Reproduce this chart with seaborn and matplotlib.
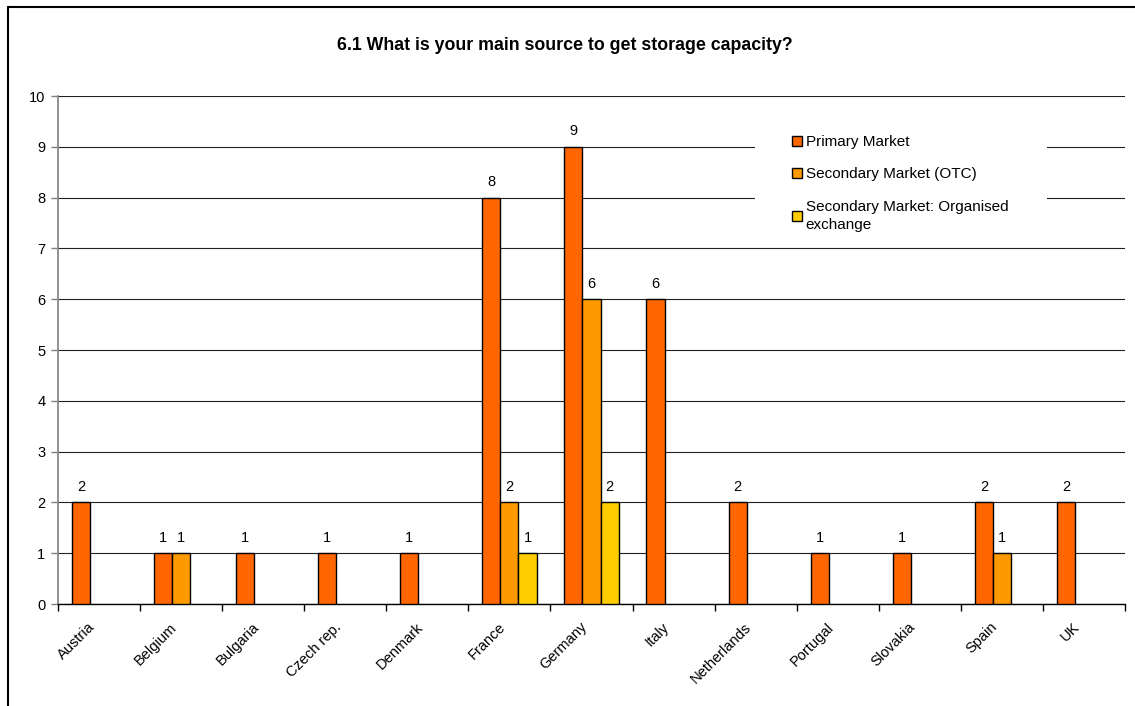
import numpy as np
import pandas as pd
import matplotlib
matplotlib.use("Agg")
import matplotlib.pyplot as plt
from matplotlib.lines import Line2D
from matplotlib.patches import Rectangle
import seaborn as sns

countries = ["Austria", "Belgium", "Bulgaria", "Czech rep.", "Denmark", "France",
             "Germany", "Italy", "Netherlands", "Portugal", "Slovakia", "Spain", "UK"]
sources = ["Primary Market", "Secondary Market (OTC)",
           "Secondary Market: Organised exchange"]
primary = [2, 1, 1, 1, 1, 8, 9, 6, 2, 1, 1, 2, 2]
secondary_otc = [0, 1, 0, 0, 0, 2, 6, 0, 0, 0, 0, 1, 0]
organised = [0, 0, 0, 0, 0, 1, 2, 0, 0, 0, 0, 0, 0]
colors = ["#FF6600", "#FF9900", "#FFCC00"]
title = "6.1 What is your main source to get storage capacity?"

rows = []
for src, vals in zip(sources, [primary, secondary_otc, organised]):
    for c, v in zip(countries, vals):
        if v > 0:
            rows.append({"country": c, "source": src, "count": v})
df = pd.DataFrame(rows)

sns.set_theme(style="white")
plt.rcParams["font.family"] = ["Liberation Sans", "DejaVu Sans"]
plt.rcParams["text.color"] = "black"

W, H = 1135, 706
fig = plt.figure(figsize=(W / 100, H / 100), dpi=100)
ax = fig.add_axes([58 / W, 1 - 604 / H, (1125 - 58) / W, (604 - 96) / H])

sns.barplot(data=df, x="country", y="count", hue="source", order=countries,
            hue_order=sources, palette=colors, width=0.66, edgecolor="black",
            linewidth=1, saturation=1, ax=ax, zorder=3)

for cont in ax.containers:
    ax.bar_label(cont, padding=6, fontsize=10.5, color="black")

ax.set_ylim(0, 10)
ax.set_xlim(-0.5, len(countries) - 0.5)
ax.set_yticks(range(0, 11))
ax.yaxis.grid(True, color="#222222", linewidth=0.8, zorder=0)
ax.set_axisbelow(True)
ax.set_xlabel("")
ax.set_ylabel("")

# tick marks between groups; rotated labels end just left of each group centre
ax.set_xticks(np.arange(-0.5, len(countries), 1))
ax.set_xticklabels([])
ax.set_xticks(np.arange(len(countries)) - 0.08, minor=True)
ax.set_xticklabels(countries, minor=True, rotation=45, ha="right", va="center",
                   rotation_mode="anchor", fontsize=10.5)
ax.tick_params(axis="x", which="major", length=5, width=1, color="black",
               direction="out", bottom=True)
ax.tick_params(axis="x", which="minor", length=0, pad=15, labelcolor="black")
ax.tick_params(axis="y", length=5, width=1, color="#808080", direction="out",
               left=True, labelsize=10.5, pad=4, labelcolor="black")

for s in ["top", "right"]:
    ax.spines[s].set_visible(False)
ax.spines["left"].set_color("#808080")
ax.spines["left"].set_linewidth(1.2)
ax.spines["bottom"].set_color("black")
ax.spines["bottom"].set_linewidth(1)

# legend area: white panel over the gridlines, entries on top
ax.add_patch(Rectangle((755 / W, 1 - 245 / H), (1047 - 755) / W, (245 - 118) / H,
                       transform=fig.transFigure, facecolor="white",
                       edgecolor="none", zorder=4))
handles, labels = ax.get_legend_handles_labels()
labels = ["Primary Market", "Secondary Market (OTC)",
          "Secondary Market: Organised\nexchange"]
leg = ax.legend(handles, labels, loc="upper left",
                bbox_to_anchor=(792 / W, 1 - 135 / H),
                bbox_transform=fig.transFigure, frameon=False,
                fontsize=11, handlelength=0.65, handleheight=0.65,
                handletextpad=0.25, labelspacing=1.2, borderpad=0,
                borderaxespad=0, labelcolor="black")
leg.set_zorder(5)
for t in leg.get_texts():
    t.set_linespacing(1.4)
for h in leg.legend_handles:
    h.set_edgecolor("black")
    h.set_linewidth(1)

fig.text(565 / W, 1 - 46 / H, title, ha="center", va="center",
         fontsize=12.8, fontweight="bold", color="black")

# chart frame
fig.add_artist(Line2D([8 / W, 8 / W], [0, 1 - 7 / H], transform=fig.transFigure,
                      color="black", linewidth=1.5))
fig.add_artist(Line2D([8 / W, 1], [1 - 7 / H, 1 - 7 / H], transform=fig.transFigure,
                      color="black", linewidth=1.5))

fig.savefig("out.png", dpi=100)
